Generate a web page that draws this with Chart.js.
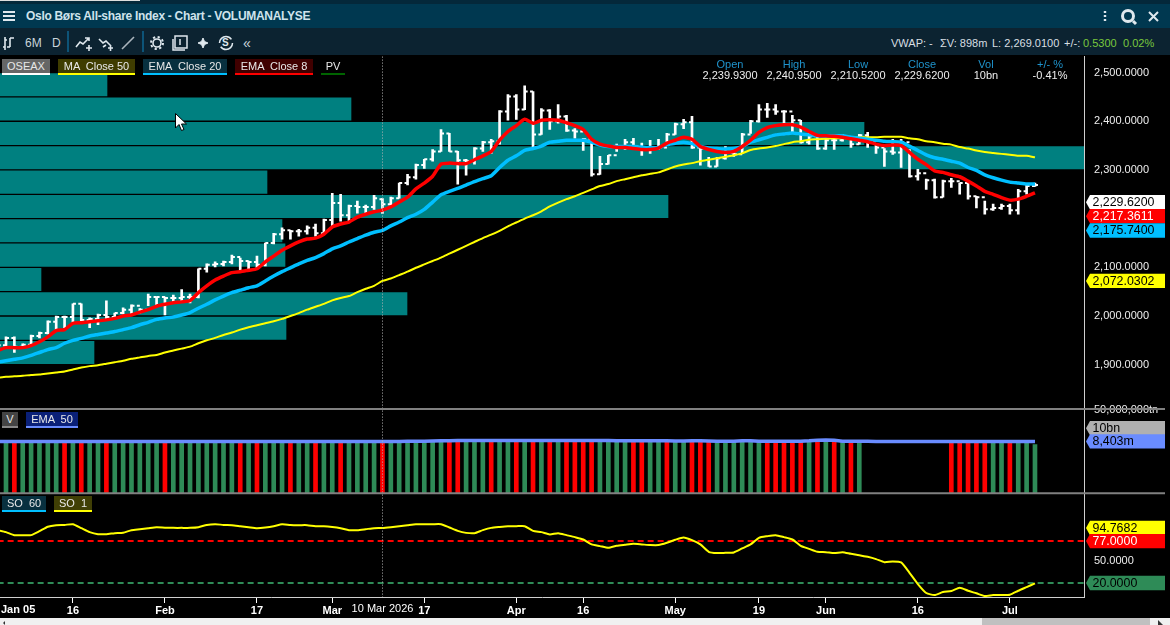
<!DOCTYPE html>
<html><head><meta charset="utf-8"><title>Oslo Børs All-share Index - Chart</title>
<style>
html,body{margin:0;padding:0;background:#000;width:1170px;height:625px;overflow:hidden;font-family:"Liberation Sans",Arial,sans-serif;font-size:11px;color:#eee}
#cv{position:absolute;left:0;top:40px}
.abs{position:absolute;white-space:pre;line-height:14px}
#top{position:absolute;left:0;top:0;width:1170px;height:4px;background:#04283a}
#top i{position:absolute;left:0;top:0;height:1px;width:140px;background:#ddd}
#title{position:absolute;left:0;top:4px;width:1170px;height:24px;background:#003850}
#tools{position:absolute;left:0;top:28px;width:1170px;height:27px;background:#0c2331}
.sep{position:absolute;top:31px;width:2px;height:21px;background:#0d5478}
.chip{position:absolute;height:14px;border-bottom:2px solid;line-height:14px;text-align:center;white-space:pre;color:#e8e8e8}
.hd{position:absolute;width:70px;text-align:center;line-height:11px}
.hd b{display:block;font-weight:normal;color:#1f93cc}
#sb{position:absolute;left:0;top:618px;width:1170px;height:7px;background:#f0f0f0}
#sb i{position:absolute;left:982px;top:0;width:168px;height:7px;background:#c0c0c0}
svg{position:absolute;overflow:visible}
</style></head><body>
<canvas id="cv" width="1170" height="578" style="width:1170px;height:578px"></canvas>
<div id="top"><i></i></div><div id="title"></div><div id="tools"></div>
<svg style="left:0;top:0" width="1170" height="55" fill="none" stroke="#dfe8ee" stroke-width="2">
<path d="M3 12h12M3 16h12M3 20h12"/>
<path d="M1105 11v2M1105 15v2M1105 19v2" stroke-width="2.4"/>
<circle cx="1128" cy="16" r="5.5" stroke-width="3"/><path d="M1133 21l3 3" stroke-width="3"/>
<path d="M1149 12l9 9M1158 12l-9 9"/>
<path d="M5 37v13M3 47h2M5 40h2M10 38v9M10 38h4M10 47h-3" stroke-width="1.6"/>
<path d="M76 47l4-5 3 2 6-6M85 38h4v3M86 48h6M89 45v6" stroke-width="1.6"/>
<path d="M99 39l4 4 3-2 5 5M103 47l3-2M108 48h5M110.500 45v6" stroke-width="1.6"/>
<path d="M122 49l12-12" stroke-width="1.6" stroke="#aab5bd"/>
<circle cx="157" cy="43" r="4" stroke-width="1.6"/><circle cx="157" cy="43" r="6" stroke-width="2" stroke-dasharray="2.200 2.500"/>
<rect x="175" y="36" width="12" height="12" stroke-width="1.500"/><path d="M173 39v11h12" stroke-width="1.500"/><path d="M180 39v6" stroke-width="1.500"/>
<path d="M203 38l1.500 3.500 3.500 1.500-3.500 1.500-1.500 3.500-1.500-3.500-3.500-1.500 3.500-1.500z" fill="#dfe8ee" stroke-width="1"/>
<circle cx="226" cy="43" r="6.500" stroke-width="1.500" stroke-dasharray="16 4"/>
</svg>
<div class="abs" style="left:26px;top:9px;font-size:12px;font-weight:700;color:#cfe3ec;letter-spacing:-.3px">Oslo Børs All-share Index - Chart - VOLUMANALYSE</div>
<div class="abs" style="left:25px;top:36px;font-size:12px;color:#c9d4da">6M</div>
<div class="abs" style="left:52px;top:36px;font-size:12px;color:#c9d4da">D</div>
<div class="abs" style="left:222px;top:36px;font-size:10px;font-weight:700;color:#dfe8ee">S</div>
<div class="abs" style="left:243px;top:36px;font-size:14px;color:#c9d4da">«</div>
<div class="sep" style="left:67px"></div><div class="sep" style="left:142px"></div>
<div class="abs" style="left:891px;top:36px;color:#d8dfe3">VWAP: -</div>
<div class="abs" style="left:940px;top:36px;color:#d8dfe3">ΣV: 898m</div>
<div class="abs" style="left:992px;top:36px;color:#d8dfe3">L: 2,269.0100</div>
<div class="abs" style="left:1064px;top:36px;color:#d8dfe3">+/-:</div>
<div class="abs" style="left:1083px;top:36px;color:#79c83d">0.5300</div>
<div class="abs" style="left:1123px;top:36px;color:#79c83d">0.02%</div>

<div class="chip" style="left:2px;top:59px;width:48px;background:#666;border-color:#fff">OSEAX</div>
<div class="chip" style="left:58px;top:59px;width:77px;background:#3f3c00;border-color:#ff0">MA  Close 50</div>
<div class="chip" style="left:143px;top:59px;width:84px;background:#08303f;border-color:#00bfff">EMA  Close 20</div>
<div class="chip" style="left:235px;top:59px;width:78px;background:#400000;border-color:#f00">EMA  Close 8</div>
<div class="chip" style="left:321px;top:59px;width:24px;border-color:#006400">PV</div>
<div class="chip" style="left:2px;top:412px;width:16px;background:#444;border-color:#888">V</div>
<div class="chip" style="left:26px;top:412px;width:52px;background:#0a2078;border-color:#6a8cff">EMA  50</div>
<div class="chip" style="left:2px;top:496px;width:44px;background:#08303f;border-color:#00bfff">SO  60</div>
<div class="chip" style="left:54px;top:496px;width:38px;background:#403f05;border-color:#ff0">SO  1</div>

<div class="hd" style="left:695px;top:59px"><b>Open</b>2,239.9300</div>
<div class="hd" style="left:759px;top:59px"><b>High</b>2,240.9500</div>
<div class="hd" style="left:823px;top:59px"><b>Low</b>2,210.5200</div>
<div class="hd" style="left:887px;top:59px"><b>Close</b>2,229.6200</div>
<div class="hd" style="left:951px;top:59px"><b>Vol</b>10bn</div>
<div class="hd" style="left:1015px;top:59px"><b>+/- %</b>-0.41%</div>

<svg style="left:175px;top:113px" width="12" height="19"><path d="M0.500 0.500V15l3.500-3.500 2.500 6 2.500-1-2.500-5.500h5z" fill="#fff" stroke="#000"/></svg>
<div id="sb"><i></i></div>
<svg style="left:0;top:618px" width="1170" height="7"><path d="M1158 2l5 5h-5z" fill="#333"/><path d="M3 5l2-2v4z" fill="#333"/></svg>

<script src="https://cdn.jsdelivr.net/npm/chart.js@4/dist/chart.umd.min.js"></script>
<script>
// trading days, Jan 05 (just off the left edge) to Jul 06
const tradingDays = ["01-05","01-06","01-07","01-08","01-09","01-12","01-13","01-14","01-15","01-16","01-19","01-20","01-21","01-22","01-23","01-26","01-27","01-28","01-29","01-30",
"02-02","02-03","02-04","02-05","02-06","02-09","02-10","02-11","02-12","02-13","02-16","02-17","02-18","02-19","02-20","02-23","02-24","02-25","02-26","02-27",
"03-02","03-03","03-04","03-05","03-06","03-09","03-10","03-11","03-12","03-13","03-16","03-17","03-18","03-19","03-20","03-23","03-24","03-25","03-26","03-27","03-30","03-31",
"04-01","04-07","04-08","04-09","04-10","04-13","04-14","04-15","04-16","04-17","04-20","04-21","04-22","04-23","04-24","04-27","04-28","04-29","04-30",
"05-04","05-05","05-06","05-07","05-08","05-11","05-12","05-13","05-15","05-18","05-19","05-20","05-21","05-22","05-26","05-27","05-28","05-29",
"06-01","06-02","06-03","06-04","06-05","06-08","06-09","06-10","06-11","06-12","06-15","06-16","06-17","06-18","06-19","06-22","06-23","06-24","06-25","06-26","06-29","06-30",
"07-01","07-02","07-03","07-06"];
const tickDates = ["01-16","02-02","02-17","03-02","03-17","04-01","04-16","05-04","05-19","06-01","06-16","07-01"];
const tickLabels = ["16","Feb","17","Mar","17","Apr","16","May","19","Jun","16","Jul"];
const firstAxisLabel = "Jan 05";
const cursorDate = "03-10";
const cursorLabel = "10 Mar 2026";

const opens = [1925,1940,1955,1937,1941,1959,1965,1988,1998,1998,2025,
1992,1994,2002,1998,2006,2013,2021,2013,2039,2039,
2037,2037,2039,2039,2097,2105,2107,2111,2121,2113,
2111,2105,2150,2168,2176,2174,2174,2181,2170,2197,
2232,2207,2226,2224,2224,2239.93,2229.62,2242,2273,2285,
2310,2322,2338,2375,2338,2320,2318,2344,2357,2359,
2420,2451,2424,2461,2373,2422,2400,2410,2381,2379,
2363,2291,2312,2330,2348,2357,2346,2346,2346,2346,
2373,2394,2398,2346,2344,2307,2324,2336,2332,2373,
2400,2424,2424,2420,2420,2402,2357,2369,2344,2361,
2361,2367,2353,2371,2359,2346,2338,2336,2357,2287,
2293,2279,2244,2277,2277,2273,2246,2244,2219,2222,
2226,2217,2256,2267];
const highs = [1941,1957,1957,1943,1961,1967,1990,2000,2000,2025,2025,
1996,2004,2031,2006,2017,2023,2015,2045,2039,2039,
2043,2054,2045,2097,2107,2111,2113,2125,2119,2113,
2123,2150,2170,2181,2176,2178,2185,2189,2199,2252,
2250,2228,2236,2228,2248,2240.95,2244,2273,2291,2312,
2322,2342,2383,2375,2338,2322,2346,2359,2363,2422,
2455,2455,2473,2461,2426,2424,2434,2412,2385,2365,
2359,2328,2330,2353,2363,2365,2355,2361,2363,2375,
2396,2404,2410,2344,2326,2326,2348,2342,2375,2402,
2434,2437,2434,2422,2412,2402,2375,2373,2363,2363,
2373,2363,2373,2377,2353,2344,2363,2363,2342,2301,
2281,2281,2279,2283,2273,2273,2246,2236,2230,2230,
2230,2260,2269,2273];
const lows = [1923,1939,1925,1935,1943,1955,1963,1972,1976,1984,1990,
1976,1982,1994,1994,2004,2004,2006,2021,2021,2002,
2027,2031,2027,2037,2090,2101,2103,2107,2094,2097,
2099,2103,2148,2158,2158,2164,2168,2164,2170,2185,
2195,2195,2211,2209,2219,2210.52,2228,2242,2269,2281,
2303,2318,2338,2338,2271,2289,2312,2338,2334,2353,
2402,2404,2424,2348,2373,2383,2396,2379,2365,2340,
2287,2291,2312,2338,2342,2342,2330,2334,2342,2355,
2373,2385,2344,2310,2307,2307,2322,2328,2334,2375,
2398,2408,2414,2396,2375,2355,2353,2342,2342,2342,
2359,2346,2353,2346,2334,2307,2332,2305,2285,2279,
2260,2242,2244,2264,2250,2240,2222,2209,2217,2219,
2209,2209,2250,2266];
const closes = [1940,1955,1937,1941,1959,1965,1988,1998,1998,2025,1992,
1994,2002,1998,2006,2013,2021,2013,2039,2039,2037,
2037,2039,2039,2097,2105,2107,2111,2121,2113,2111,
2105,2150,2168,2176,2174,2174,2181,2170,2197,2232,
2207,2226,2224,2224,2242,2229.62,2242,2273,2285,2310,
2322,2338,2375,2338,2320,2318,2344,2357,2359,2420,
2451,2424,2461,2373,2422,2400,2410,2381,2379,2363,
2291,2312,2330,2348,2357,2346,2346,2346,2346,2373,
2394,2398,2346,2344,2307,2324,2336,2332,2373,2400,
2424,2424,2420,2420,2402,2357,2369,2344,2361,2361,
2367,2353,2371,2359,2346,2338,2336,2357,2287,2293,
2279,2244,2277,2277,2273,2246,2244,2219,2222,2226,
2217,2256,2267,2269.01];
const ema8 = [1929,1935,1935,1935,1939,1947,1957,1970,1972,1985,1986,
1988,1990,1992,1995,2000,2002,2008,2013,2020,2024,
2027,2029,2032,2048,2062,2074,2082,2089,2091,2094,
2097,2111,2123,2135,2144,2152,2158,2160,2168,2183,
2189,2193,2203,2209,2214,2217.36,2224,2234,2244,2261,
2273,2287,2312,2314,2313,2313,2321,2329,2338,2361,
2379,2391,2404,2396,2402,2403,2402,2397,2391,2383,
2363,2353,2349,2346,2346,2344,2342,2342,2345,2355,
2361,2367,2363,2348,2342,2338,2336,2338,2348,2361,
2377,2387,2391,2393,2393,2388,2379,2371,2370,2369,
2367,2364,2361,2358,2353,2350,2351,2350,2336,2322,
2311,2298,2295,2290,2286,2277,2267,2256,2250,2243,
2238,2240,2246,2253];
const ema20 = [1905,1908,1911,1914,1919,1925,1931,1935,1944,1950,1954,
1959,1962,1965,1968,1972,1976,1982,1987,1993,1996,
1998,2002,2007,2016,2024,2033,2041,2048,2053,2058,
2062,2072,2082,2091,2099,2107,2114,2120,2128,2138,
2144,2152,2159,2166,2172,2175.74,2185,2193,2202,2209,
2219,2234,2249,2256,2262,2269,2276,2282,2288,2305,
2320,2329,2340,2344,2349,2357,2359,2361,2361,2361,
2357,2351,2348,2348,2348,2348,2347,2346,2346,2352,
2355,2357,2354,2348,2345,2344,2343,2344,2348,2357,
2362,2367,2372,2374,2376,2374,2372,2370,2369,2370,
2370,2367,2365,2363,2361,2359,2358,2357,2349,2340,
2331,2325,2322,2318,2314,2305,2299,2290,2284,2279,
2275,2273,2271,2271];
const ma50 = [1873,1875,1876,1877,1879,1880,1882,1884,1886,1890,1894,
1897,1899,1902,1905,1908,1912,1915,1918,1920,1925,
1929,1933,1937,1944,1950,1955,1961,1966,1972,1977,
1981,1985,1989,1994,2000,2006,2013,2019,2025,2032,
2037,2041,2049,2056,2062,2072.03,2077,2084,2091,2099,
2106,2113,2120,2128,2136,2144,2152,2160,2167,2175,
2184,2192,2200,2207,2215,2225,2233,2240,2246,2253,
2260,2267,2271,2277,2281,2285,2289,2292,2295,2301,
2307,2311,2314,2318,2321,2324,2327,2330,2334,2341,
2344,2346,2349,2353,2357,2359,2362,2363,2364,2365,
2365,2366,2367,2367,2367,2368,2368,2368,2365,2363,
2359,2357,2354,2352,2347,2344,2340,2337,2335,2333,
2331,2329,2329,2326];
// price-by-volume bands: band centres and relative volume per band
const pvBands = [2475,2425,2375,2325,2275,2225,2175,2125,2075,2025,1975,1925];
const pvVolume = [107,351,864,1300,267,668,282,285,41,407,286,94];
const volumeBn = [8.8,8.2,9.1,7.6,8.8,9.4,10.2,8.7,9.9,11.3,8.1,
7.9,8.5,9.2,7.4,8.8,9.6,8.3,10.7,8.9,9.3,
9.8,8.6,7.7,12.4,9.5,8.1,7.9,8.4,9.2,8.8,
9.7,11.6,10.1,8.6,7.8,8.2,8.9,9.4,9.1,12.8,
10.6,8.4,7.9,8.7,9.3,10,8.5,9.6,10.8,11.7,
12.2,13.4,16.8,15.1,18.3,14.6,12.7,11.9,12.3,16.2,
17.4,15.6,19.2,21.3,16.7,14.9,13.8,13.1,12.6,11.8,
17.9,13.2,10.4,11.1,10.7,9.9,10.2,9.4,8.9,11.3,
12.5,11.8,16.4,12.1,10.6,9.7,9.3,8.8,11.2,12.4,
13.7,10.9,9.8,8.6,9.2,10.4,14.8,19.6,16.3,9.1,
8.4,8.9,7.8,null,null,null,null,null,null,null,null,null,null,
9.5,8.7,9.8,8.9,10.2,8.4,7.9,9.1,8.6,9.3,0.898];
const volumeEmaBn = [8.3,8.3,8.3,8.2,8.3,8.3,8.4,8.4,8.4,8.5,8.4,
8.4,8.4,8.4,8.3,8.3,8.4,8.4,8.4,8.4,8.4,
8.4,8.4,8.3,8.5,8.6,8.5,8.4,8.4,8.4,8.4,
8.4,8.6,8.6,8.5,8.5,8.4,8.4,8.4,8.4,8.6,
8.6,8.5,8.4,8.4,8.4,8.403,8.4,8.5,8.7,9.2,
10.1,11.3,12.9,13.8,14.9,15.2,15.4,15.1,15.0,15.3,
15.6,15.6,16.1,16.9,16.9,16.6,16.2,15.8,15.4,15.1,
15.6,15.4,14.8,14.3,13.8,13.3,13.0,12.8,12.5,12.3,
12.2,12.1,12.4,12.3,12.1,9.6,9.0,8.9,12.6,14.1,
9.6,9.2,8.9,8.8,8.8,8.9,12.5,20.2,21.6,17.8,
9.4,8.9,8.7,8.7,8.6,8.6,8.6,8.6,8.6,8.6,
8.6,8.6,8.6,8.6,8.6,8.6,8.6,8.6,8.5,8.5,
8.5,8.5,8.5,8.4];
// indexes into tradingDays of the sessions with a falling volume bar
const downSessions = [2,8,10,13,20,29,31,35,38,41,46,54,55,59,62,64,66,68,69,70,71,76,77,80,83,84,85,92,93,94,95,96,98,100,102,114,115,116,117,118,121];
const stochastic = [91.8,89.2,85.1,85.1,85.1,90.5,96.6,98.7,99,100,94.6,
89.2,86.4,86.4,87.8,88.5,91.9,93.2,94.6,95.9,95.3,
95,95,95,95.9,99,100,99,98.7,97.3,95.9,
94.6,95.5,97.3,100,99,98.7,98.7,97.3,97.3,96.3,
94.6,91.9,91.9,93.2,94.6,94.77,95.9,97.3,98.7,100,
100,100,100,95.5,90.9,88.2,87.8,91.9,95,96.3,
97.3,97.3,97.3,90.9,89.2,86.1,87.8,85.1,82.4,79.2,
72.5,70.2,67.9,70.6,72,73.3,72.5,71.6,71.6,74.7,
78.8,82,78.3,72.5,62.5,60.7,61.1,61.6,67,72.5,
81.4,83.7,85.1,82.4,79.2,70.6,66.5,62.4,62,60.7,
62,59.7,57.9,55.6,52.5,48.4,49.4,48,33.9,18.6,
6.4,3.7,7.7,9.1,13.6,9.5,6,2.3,3.7,3.7,
4.1,9.5,14.5,19.5];
const soUpper = 77, soLower = 20;
const priceTicks = [2500,2400,2300,2200,2100,2000,1900];
const soTicks = [50];
const volumeTopTick = 5e19;
const volumeTopLabel = "50,000,000tn";
const priceFlags = [[2229.62,"2,229.6200","#fff","#000",-2],[2217.3611,"2,217.3611","#f00","#fff",6],[2175.74,"2,175.7400","#00bfff","#000",0],[2072.0302,"2,072.0302","#ff0","#000",0]];
const volumeFlags = [[1e10,"10bn","#b0b0b0","#000",-13],[8.403e9,"8,403m","#6a8cff","#000",0]];
const soFlags = [[94.7682,"94.7682","#ff0","#000",0],[77,"77.0000","#f00","#fff",0],[20,"20.0000","#2e8b57","#000",0]];

const pts = a => a.map((v,k)=>({x:k,y:v}));
const C_UP='#2e8b57', C_DN='#ff0000';

const overlay = {
  id:'overlay',
  afterDraw(c){
    const g=c.ctx, {x,y,yV,yS}=c.scales;
    g.save();
    // crosshair
    const cx=Math.round(x.getPixelForValue(tradingDays.indexOf(cursorDate)))+0.5;
    g.strokeStyle='#b5b5b5';g.lineWidth=1;g.setLineDash([1,2]);
    g.beginPath();g.moveTo(cx,y.top);g.lineTo(cx,yS.bottom);g.stroke();g.setLineDash([]);
    // panel rules
    g.strokeStyle='#808080';g.lineWidth=2;
    [yV.top-0.5,yV.bottom].forEach(p=>{g.beginPath();g.moveTo(0,p);g.lineTo(1165,p);g.stroke();});
    // flags
    const flag=(s,f)=>{
      const p=s.getPixelForValue(f[0])+f[4],h=7.2;
      g.fillStyle=f[2];g.beginPath();g.moveTo(1086,p);g.lineTo(1090,p-h);g.lineTo(1165,p-h);g.lineTo(1165,p+h);g.lineTo(1090,p+h);g.closePath();g.fill();
      g.fillStyle=f[3];g.font='12.4px "Liberation Sans"';g.textBaseline='middle';g.textAlign='left';g.fillText(f[1],1092.5,p+.5);
    };
    priceFlags.forEach(f=>flag(y,f));volumeFlags.forEach(f=>flag(yV,f));soFlags.forEach(f=>flag(yS,f));
    // axis-row labels
    g.fillStyle='#fff';g.textBaseline='middle';g.font='11px "Liberation Sans"';g.textAlign='center';
    g.fillText(cursorLabel,cx,x.top+12);
    g.font='bold 11px "Liberation Sans"';g.textAlign='left';
    g.fillText(firstAxisLabel,1,x.top+13);
    g.restore();
  }
};

const fmt4 = v => v.toLocaleString('en-US',{minimumFractionDigits:4,maximumFractionDigits:4});
const fixW = s => { s.width = 86; };
const tickFont = {family:'"Liberation Sans"',size:11};
const sideAxis = (extra)=>Object.assign({
  position:'right',stack:'panels',offset:false,grid:{display:false,drawTicks:false,offset:false},border:{display:true,color:'#d0d0d0',width:1},
  afterFit:fixW
},extra);

new Chart(document.getElementById('cv'),{
  data:{datasets:[
    {type:'bar',label:'PV',indexAxis:'y',xAxisID:'xPV',yAxisID:'y',order:10,grouped:false,barThickness:22.4,backgroundColor:'#008080',borderWidth:0,
      data:pvBands.map((b,i)=>({x:pvVolume[i],y:b}))},
    {type:'bar',label:'OSEAX range',xAxisID:'x',yAxisID:'y',order:6,grouped:false,barThickness:2,backgroundColor:'#fff',borderWidth:0,
      data:highs.map((h,k)=>({x:k,y:[lows[k],h]}))},
    {type:'line',label:'OSEAX open',xAxisID:'x',yAxisID:'y',order:5,showLine:false,pointStyle:'dash',pointRotation:180,pointRadius:3,pointBorderColor:'#fff',pointBorderWidth:2,data:pts(opens)},
    {type:'line',label:'OSEAX close',xAxisID:'x',yAxisID:'y',order:5,showLine:false,pointStyle:'dash',pointRadius:3,pointBorderColor:'#fff',pointBorderWidth:2,data:pts(closes)},
    {type:'line',label:'MA Close 50',xAxisID:'x',yAxisID:'y',order:3,borderColor:'#ffff00',borderWidth:2,pointRadius:0,tension:0.2,data:pts(ma50)},
    {type:'line',label:'EMA Close 20',xAxisID:'x',yAxisID:'y',order:2,borderColor:'#00bfff',borderWidth:3.5,pointRadius:0,tension:0.2,data:pts(ema20)},
    {type:'line',label:'EMA Close 8',xAxisID:'x',yAxisID:'y',order:1,borderColor:'#ff0000',borderWidth:3.5,pointRadius:0,tension:0.2,data:pts(ema8)},
    {type:'bar',label:'V',xAxisID:'x',yAxisID:'yV',order:4,grouped:false,barThickness:4,borderWidth:0,
      backgroundColor:volumeBn.map((v,k)=>downSessions.includes(k)?C_DN:C_UP),
      data:volumeBn.map((v,k)=>({x:k,y:v===null?null:v*1e9}))},
    {type:'line',label:'EMA 50',xAxisID:'x',yAxisID:'yV',order:1,borderColor:'#6a8cff',borderWidth:3.5,pointRadius:0,data:volumeEmaBn.map((v,k)=>({x:k,y:v*1e9}))},
    {type:'line',label:'SO 1',xAxisID:'x',yAxisID:'yS',order:1,borderColor:'#ffff00',borderWidth:2,pointRadius:0,tension:0.2,data:pts(stochastic)},
    {type:'line',label:'SO upper',xAxisID:'x',yAxisID:'yS',order:2,borderColor:'#ff0000',borderWidth:2,borderDash:[6,4],pointRadius:0,
      data:[{x:0,y:soUpper},{x:tradingDays.length+8,y:soUpper}]},
    {type:'line',label:'SO lower',xAxisID:'x',yAxisID:'yS',order:2,borderColor:'#2e8b57',borderWidth:2,borderDash:[6,4],pointRadius:0,
      data:[{x:0,y:soLower},{x:tradingDays.length+8,y:soLower}]}
  ]},
  options:{
    responsive:false,animation:false,events:[],
    layout:{padding:0,autoPadding:false},
    plugins:{legend:{display:false},tooltip:{enabled:false},title:{display:false}},
    scales:{
      y:sideAxis({type:'linear',stackWeight:354,min:1807.8,max:2532.8,
        afterBuildTicks:s=>{s.ticks=priceTicks.map(v=>({value:v}));},
        ticks:{padding:10,color:'#eee',font:tickFont,callback:v=>fmt4(v)}}),
      yV:sideAxis({type:'logarithmic',stackWeight:84,min:1e-6,max:5e19,
        afterBuildTicks:s=>{s.ticks=[{value:volumeTopTick}];},
        ticks:{padding:10,color:'#eee',font:tickFont,autoSkip:false,callback:()=>volumeTopLabel}}),
      yS:sideAxis({type:'linear',stackWeight:104,min:1,max:142,
        afterBuildTicks:s=>{s.ticks=soTicks.map(v=>({value:v}));},
        ticks:{padding:10,color:'#eee',font:tickFont,callback:v=>fmt4(v)}}),
      x:{type:'linear',position:'bottom',offset:false,min:0.283,max:129.86,
        grid:{display:true,offset:false,drawOnChartArea:false,drawTicks:true,tickLength:6,color:'#fff'},
        border:{display:true,color:'#d0d0d0',width:1},
        afterBuildTicks:s=>{s.ticks=tickDates.map(d=>({value:tradingDays.indexOf(d)}));},
        afterFit:s=>{s.height=21;},
        ticks:{autoSkip:false,maxRotation:0,padding:1,color:'#fff',font:{family:'"Liberation Sans"',size:11,weight:'bold'},
          callback:v=>tickLabels[tickDates.indexOf(tradingDays[v])]}},
      xPV:{type:'linear',position:'top',display:false,min:0,max:1084,afterFit:s=>{s.height=0;}}
    }
  },
  plugins:[overlay]
});
</script>
</body></html>
